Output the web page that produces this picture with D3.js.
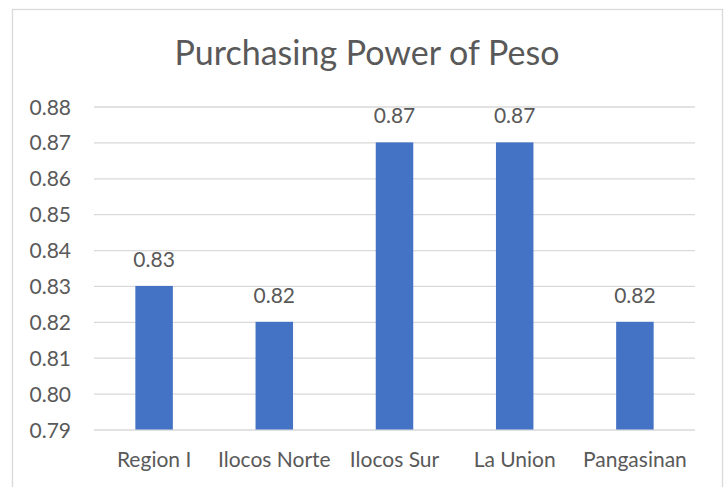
<!DOCTYPE html>
<html>
<head>
<meta charset="utf-8">
<script src="https://cdn.jsdelivr.net/npm/d3@7"></script>
<style>
  body { margin: 0; background: #fff; }
  text { font-family: Lato, "Open Sans", sans-serif; fill: #595959; }
</style>
</head>
<body>
<svg id="chart" width="727" height="487"></svg>
<script>
var regions = ["Region I", "Ilocos Norte", "Ilocos Sur", "La Union", "Pangasinan"];
var power = [0.83, 0.82, 0.87, 0.87, 0.82];
var yTicks = [0.79, 0.80, 0.81, 0.82, 0.83, 0.84, 0.85, 0.86, 0.87, 0.88];

var svg = d3.select("#chart");
var plotLeft = 94, plotRight = 695, plotTop = 106.5, plotBottom = 429.5;

// chart border
svg.append("rect")
    .attr("x", 12.5).attr("y", 9.5)
    .attr("width", 710).attr("height", 500)
    .attr("fill", "none")
    .attr("stroke", "#d9d9d9")
    .attr("stroke-width", 1.3);

svg.append("text")
    .attr("x", 367).attr("y", 65)
    .attr("text-anchor", "middle")
    .style("font-size", "34px")
    .text("Purchasing Power of Peso");

var x = d3.scaleBand().domain(regions).range([plotLeft, plotRight]);
var y = d3.scaleLinear().domain([0.79, 0.88]).range([plotBottom, plotTop]);

var yAxis = d3.axisLeft(y)
    .tickValues(yTicks)
    .tickFormat(d3.format(".2f"))
    .tickSize(-(plotRight - plotLeft))
    .tickPadding(23);

svg.append("g")
    .attr("class", "y axis")
    .attr("transform", "translate(" + plotLeft + ",0)")
    .call(yAxis)
    .call(function(g) {
      g.select(".domain").remove();
      g.selectAll("line").attr("stroke", "#d9d9d9").attr("stroke-width", 1.3);
      g.selectAll("text").style("font-size", "21px").attr("dy", "0.36em");
    });

var barW = x.bandwidth() * 0.312;

svg.selectAll("rect.bar")
    .data(power)
    .enter().append("rect")
      .attr("class", "bar")
      .attr("x", function(d, i) { return x(regions[i]) + x.bandwidth() / 2 - barW / 2; })
      .attr("y", function(d) { return y(d); })
      .attr("width", barW)
      .attr("height", function(d) { return y(0.79) - y(d); })
      .attr("fill", "#4472c4");

svg.selectAll("text.value")
    .data(power)
    .enter().append("text")
      .attr("class", "value")
      .attr("x", function(d, i) { return x(regions[i]) + x.bandwidth() / 2; })
      .attr("y", function(d) { return y(d) - 19; })
      .attr("text-anchor", "middle")
      .style("font-size", "21px")
      .text(function(d) { return d3.format(".2f")(d); });

var xAxis = d3.axisBottom(x).tickSize(0).tickPadding(23);

svg.append("g")
    .attr("class", "x axis")
    .attr("transform", "translate(0," + plotBottom + ")")
    .call(xAxis)
    .call(function(g) {
      g.select(".domain").remove();
      g.selectAll("text").style("font-size", "21px").attr("dy", "0.71em");
    });
</script>
</body>
</html>
